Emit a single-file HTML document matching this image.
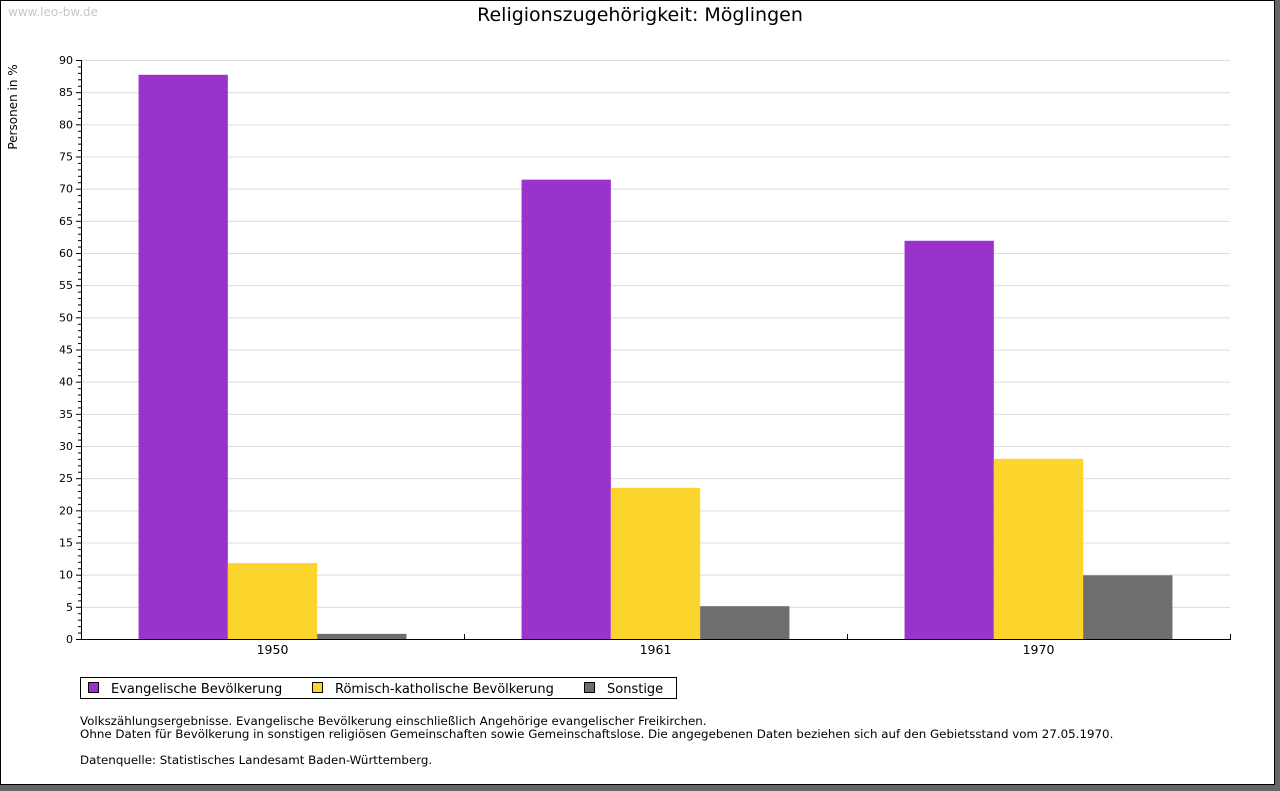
<!DOCTYPE html>
<html><head><meta charset="utf-8"><style>
body{margin:0;width:1280px;height:791px;background:#666;font-family:"Liberation Sans","DejaVu Sans",sans-serif;overflow:hidden}
#frame{position:absolute;left:0;top:0;width:1273px;height:783px;background:#fff;border:1px solid #000}
#frame svg{position:absolute;left:-1px;top:-1px}
</style></head><body>
<div id="frame">
<svg width="1275" height="785" font-family="DejaVu Sans, Liberation Sans, sans-serif">
<text x="8" y="16" font-size="12" fill="#c8c8c8">www.leo-bw.de</text>
<text x="640" y="21" font-size="19" text-anchor="middle" fill="#000">Religionszugehörigkeit: Möglingen</text>
<text transform="translate(17,107) rotate(-90)" font-size="12" text-anchor="middle">Personen in %</text>
<g id="grid"></g><g id="bars"></g><g id="axes"></g>
<g>
<rect x="80.5" y="677.5" width="596" height="21" fill="#fff" stroke="#000"/>
<g id="legend"></g>
</g>
<g font-size="11.85" fill="#000">
<text x="80" y="725">Volkszählungsergebnisse. Evangelische Bevölkerung einschließlich Angehörige evangelischer Freikirchen.</text>
<text x="80" y="738">Ohne Daten für Bevölkerung in sonstigen religiösen Gemeinschaften sowie Gemeinschaftslose. Die angegebenen Daten beziehen sich auf den Gebietsstand vom 27.05.1970.</text>
<text x="80" y="764">Datenquelle: Statistisches Landesamt Baden-Württemberg.</text>
</g>
</svg></div>
<script>
const categories=["1950","1961","1970"];
const seriesNames=["Evangelische Bevölkerung","Römisch-katholische Bevölkerung","Sonstige"];
const evangelisch=[87.7,71.4,61.9];
const katholisch=[11.8,23.5,28.0];
const sonstige=[0.8,5.1,9.9];
const yTicks=[0,5,10,15,20,25,30,35,40,45,50,55,60,65,70,75,80,85,90];
const colors=["#9933cc","#fcd52c","#6e6e6e"];
const NS="http://www.w3.org/2000/svg";
const X0=81,X1=1230,Y0=639,Y1=60,YMAX=90;
const y=v=>Y0-(v/YMAX)*(Y0-Y1);
const gw=(X1-X0)/categories.length;
function mk(t,a,p){const e=document.createElementNS(NS,t);for(const k in a)e.setAttribute(k,a[k]);p.appendChild(e);return e;}
const grid=document.getElementById('grid'),bars=document.getElementById('bars'),axes=document.getElementById('axes'),leg=document.getElementById('legend');
yTicks.forEach(t=>{
  if(t>0){const l=mk('line',{x1:X0,x2:X1,y1:y(t)+.5,y2:y(t)+.5,stroke:'#dcdcdc'},grid);
  
  }
  mk('line',{x1:X0-5,x2:X0,y1:y(t)+.5,y2:y(t)+.5,stroke:'#000'},axes);
  const tx=mk('text',{x:X0-8,y:y(t)+4,'font-size':11,'text-anchor':'end'},axes);tx.textContent=t;
  
  
});
for(let v=0;v<YMAX;v++){if(v%5)mk('line',{x1:X0-3,x2:X0,y1:y(v)+.5,y2:y(v)+.5,stroke:'#000'},axes);}
const series=[evangelisch,katholisch,sonstige];
const bw=89.3;
categories.forEach((c,i)=>{
  const gx=X0+gw*i;const start=gx+(gw-3*bw)/2;
  series.forEach((s,j)=>{
    const r=mk('rect',{x:start+j*bw,y:y(s[i]),width:bw,height:Y0-y(s[i]),fill:colors[j]},bars);
    
    
  });
  const tx=mk('text',{x:gx+gw/2,y:Y0+15,'font-size':12.5,'text-anchor':'middle'},axes);tx.textContent=c;
  
  
  mk('line',{x1:Math.round(gx+gw)+.5,x2:Math.round(gx+gw)+.5,y1:Y0-5,y2:Y0+.5,stroke:'#000'},axes);
});
mk('line',{x1:X0+.5,x2:X0+.5,y1:Y1,y2:Y0+1,stroke:'#000'},axes);
mk('line',{x1:X0,x2:X1+1,y1:Y0+.5,y2:Y0+.5,stroke:'#000'},axes);
const lx=[88,312,584];
seriesNames.forEach((n,j)=>{
  const g=mk('g',{},leg);
  
  
  mk('rect',{x:lx[j]+.5,y:682.5,width:10,height:10,fill:colors[j],stroke:'#000'},g);
  const t=mk('text',{x:lx[j]+23,y:693,'font-size':13},g);t.textContent=n;
});
</script>
</body></html>
